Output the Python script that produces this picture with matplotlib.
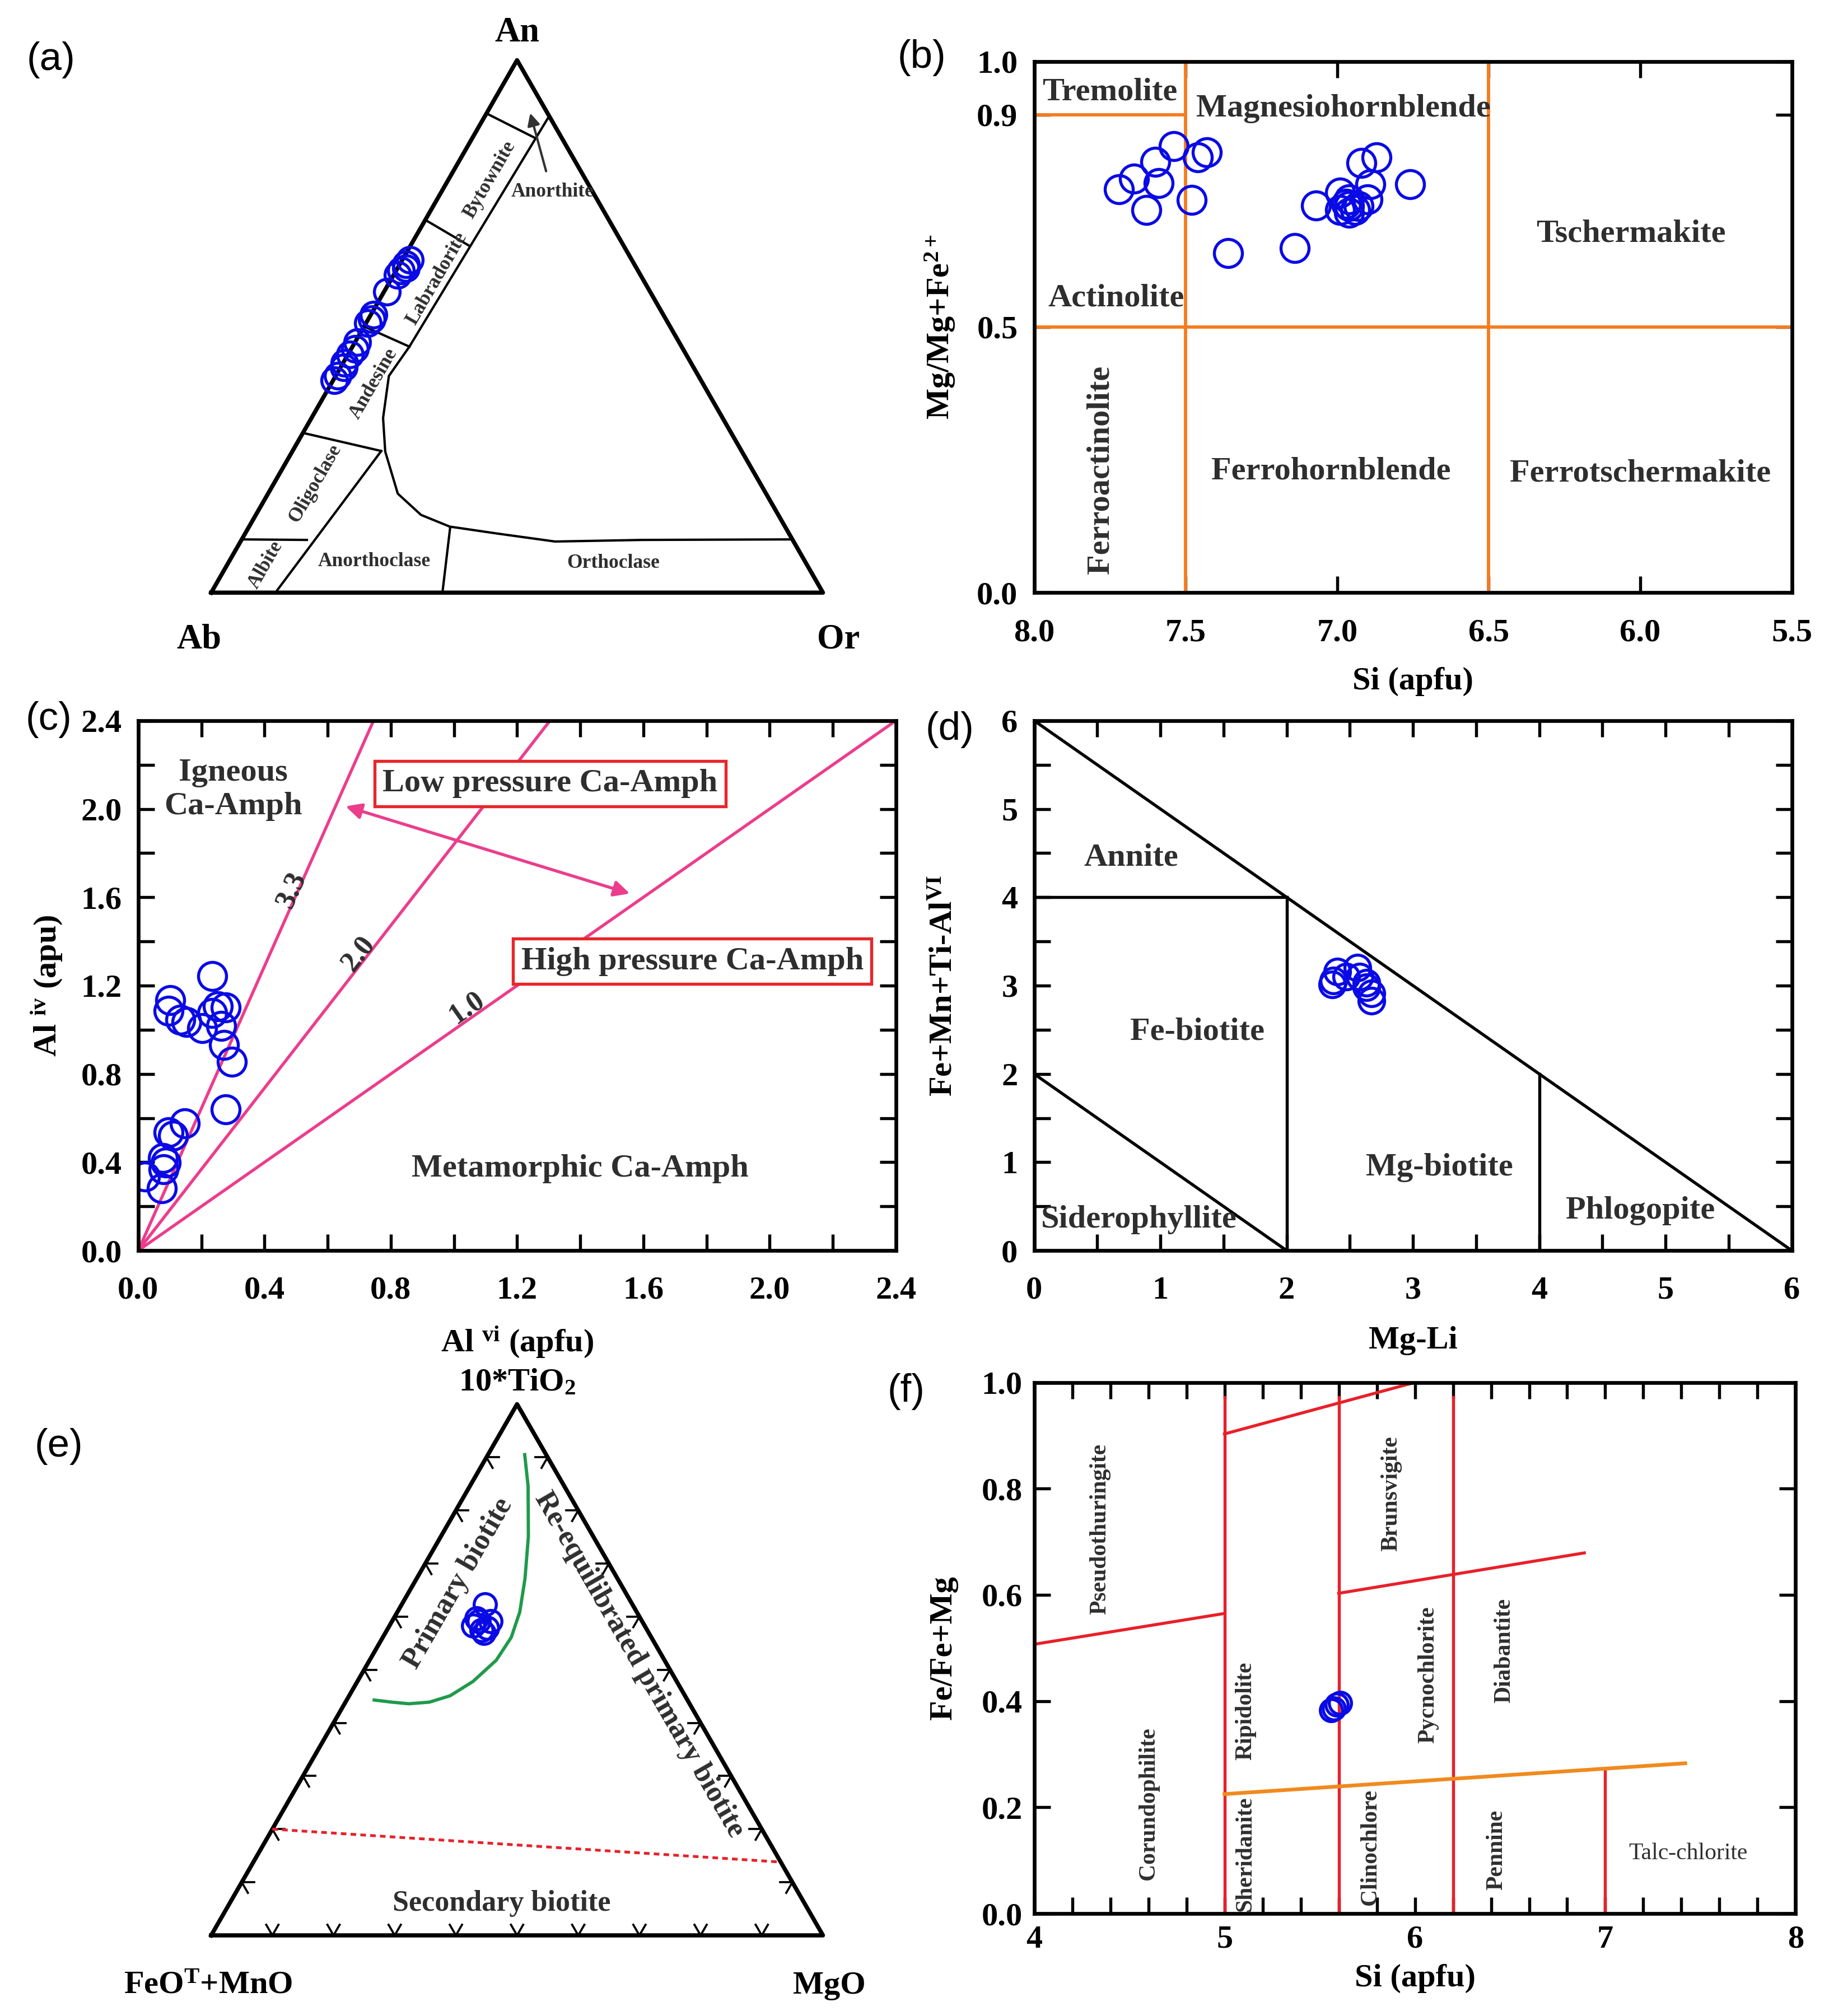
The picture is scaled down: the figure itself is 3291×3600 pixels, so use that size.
import numpy as np
import matplotlib
matplotlib.use('Agg')
import matplotlib.pyplot as plt
from matplotlib.ticker import MultipleLocator, FixedLocator, FormatStrFormatter

plt.rcParams['font.family'] = 'Liberation Serif'
plt.rcParams['font.weight'] = 'bold'
plt.rcParams['axes.labelweight'] = 'bold'
plt.rcParams['mathtext.fontset'] = 'custom'
plt.rcParams['mathtext.rm'] = 'Liberation Serif:bold'
plt.rcParams['mathtext.it'] = 'Liberation Serif:bold'
plt.rcParams['mathtext.bf'] = 'Liberation Serif:bold'
plt.rcParams['mathtext.default'] = 'rm'

# ---------------- data ----------------
# (a) plagioclase: An and Or fractions
plag_an = [0.625, 0.617, 0.609, 0.605, 0.597, 0.565, 0.522, 0.514, 0.506,
           0.470, 0.458, 0.447, 0.431, 0.423, 0.407, 0.399]
plag_or = [0.012, 0.010, 0.014, 0.008, 0.006, 0.005, 0.004, 0.006, 0.003,
           0.004, 0.006, 0.003, 0.002, 0.005, 0.003, 0.002]

# (b) amphibole classification
amph_si = [7.72, 7.67, 7.60, 7.59, 7.63, 7.54, 7.46, 7.43, 7.48, 7.36, 7.14,
           7.07, 6.99, 6.96, 6.99, 6.96, 6.96, 6.94, 6.93, 6.90, 6.89, 6.92,
           6.87, 6.76, 6.97]
amph_mg = [0.759, 0.779, 0.811, 0.771, 0.720, 0.840, 0.819, 0.829, 0.739,
           0.639, 0.649, 0.729, 0.753, 0.740, 0.720, 0.728, 0.715, 0.720,
           0.728, 0.740, 0.769, 0.809, 0.819, 0.769, 0.732]

# (c) Al vi vs Al iv
al_vi = [0.235, 0.102, 0.096, 0.133, 0.152, 0.203, 0.235, 0.253, 0.277, 0.262,
         0.272, 0.296, 0.277, 0.148, 0.096, 0.111, 0.078, 0.087, 0.081, 0.022,
         0.074]
al_iv = [1.242, 1.134, 1.085, 1.045, 1.035, 1.006, 1.075, 1.105, 1.101, 1.017,
         0.932, 0.856, 0.640, 0.575, 0.536, 0.520, 0.418, 0.398, 0.369, 0.334,
         0.281]
pressure_slopes = [3.22, 1.84, 1.0]
pressure_labels = ['3.3', '2.0', '1.0']

# (d) biotite Mg-Li vs Fe+Mn+Ti-AlVI
bio_mgli = [2.36, 2.40, 2.47, 2.37, 2.56, 2.58, 2.63, 2.67, 2.67, 2.63]
bio_fe = [3.01, 3.16, 3.10, 3.06, 3.20, 3.10, 3.03, 2.91, 2.83, 2.98]

# (e) biotite ternary: 10*TiO2 and MgO fractions
bio_ti = [0.623, 0.591, 0.583, 0.579, 0.575, 0.597, 0.591, 0.569]
bio_mg = [0.136, 0.142, 0.137, 0.162, 0.155, 0.135, 0.161, 0.161]
primary_ti = [0.905, 0.846, 0.751, 0.672, 0.609, 0.561, 0.518, 0.478, 0.451,
              0.439, 0.436, 0.439, 0.443]
primary_mg = [0.060, 0.095, 0.143, 0.177, 0.200, 0.210, 0.207, 0.189, 0.165,
              0.137, 0.105, 0.076, 0.045]
secondary_ti = [0.200, 0.138]
secondary_mg = [0.0, 0.862]

# (f) chlorite
chl_si = [5.56, 5.574, 5.59, 5.606]
chl_fe = [0.383, 0.386, 0.393, 0.397]

# ---------------- helpers ----------------
S3 = np.sqrt(3) / 2


def tern(top, right):
    top = np.asarray(top, float)
    right = np.asarray(right, float)
    return right + top / 2, top * S3


def rect(x0, y0, x1, y1):
    # box given in reference pixels of a 1440 x 1575 view
    return [x0 / 1440, 1 - y1 / 1575, (x1 - x0) / 1440, (y1 - y0) / 1575]


def style(ax, xpad=11, ypad=7):
    ax.tick_params(which='both', direction='in', top=True, right=True,
                   length=7, width=1.3, labelsize=14)
    ax.tick_params(axis='x', which='both', pad=xpad)
    ax.tick_params(axis='y', which='both', pad=ypad)
    for s in ax.spines.values():
        s.set_linewidth(1.6)


def line_angle(ax, slope):
    p0 = ax.transData.transform((0, 0))
    p1 = ax.transData.transform((1, slope))
    return np.degrees(np.arctan2(p1[1] - p0[1], p1[0] - p0[0]))


BLUE = '#0a0ae6'
GREY = '#2e2e2e'
circ = dict(ls='none', marker='o', mfc='none', mec=BLUE, mew=1.3)

fig = plt.figure(figsize=(3291 / 300, 3600 / 300), dpi=300)

# ---------------- (a) ----------------
ax = fig.add_axes(rect(165, 47, 643, 463))
ax.set_xlim(0, 1)
ax.set_ylim(0, S3)
ax.axis('off')
ax.plot([0, 1, 0.5, 0], [0, 0, S3, 0], color='black', lw=1.8, clip_on=False)
thin = dict(color='black', lw=1.0, clip_on=False)
segs = [
    ([0.90, 0.855], [0.0, 0.100]),
    ([0.895, 0.462], [0.105, 0.093]),
    ([0.70, 0.652], [0.0, 0.095]),
    ([0.50, 0.462], [0.0, 0.093]),
    ([0.30, 0.266], [0.0, 0.145]),
    ([0.10, 0.099], [0.0, 0.107]),
    ([0.266, 0.0], [0.145, 0.105]),
    ([0.121, 0.0], [0.330, 0.378]),
    ([0.462, 0.407, 0.328, 0.265, 0.186, 0.146, 0.124, 0.111, 0.096, 0.099,
      0.100],
     [0.093, 0.087, 0.117, 0.152, 0.212, 0.270, 0.328, 0.412, 0.514, 0.656,
      0.900]),
]
for an_s, or_s in segs:
    ax.plot(*tern(an_s, or_s), **thin)
ax.plot(*tern(plag_an, plag_or), ms=11, **circ)
fs_a = 8.5
for txt, an_v, or_v in [('Bytownite', 0.775, 0.068), ('Labradorite', 0.590, 0.074),
                        ('Andesine', 0.392, 0.070), ('Oligoclase', 0.205, 0.068),
                        ('Albite', 0.052, 0.063)]:
    ax.text(*tern(an_v, or_v), txt, rotation=60, ha='center', va='center',
            fontsize=fs_a, color=GREY)
ax.text(*tern(0.059, 0.237), 'Anorthoclase', ha='center', va='center',
        fontsize=fs_a, color=GREY)
ax.text(*tern(0.055, 0.630), 'Orthoclase', ha='center', va='center',
        fontsize=fs_a, color=GREY)
ax.text(*tern(0.753, 0.181), 'Anorthite', ha='center', va='center',
        fontsize=fs_a, color=GREY)
ax.annotate('', xy=tern(0.909, 0.065), xytext=tern(0.783, 0.158),
            arrowprops=dict(arrowstyle='-|>', color='#333333', lw=1.0,
                            mutation_scale=11))
ax.text(0.5, S3 + 0.018, 'An', ha='center', va='bottom', fontsize=15)
ax.text(-0.02, -0.05, 'Ab', ha='center', va='top', fontsize=15)
ax.text(1.025, -0.05, 'Or', ha='center', va='top', fontsize=15)

# ---------------- (b) ----------------
ax = fig.add_axes(rect(808, 48, 1400, 463))
style(ax)
ax.set_xlim(8.0, 5.5)
ax.set_ylim(0, 1.0)
ax.xaxis.set_major_locator(MultipleLocator(0.5))
ax.xaxis.set_major_formatter(FormatStrFormatter('%.1f'))
ax.yaxis.set_major_locator(FixedLocator([0.0, 0.5, 0.9, 1.0]))
ax.yaxis.set_major_formatter(FormatStrFormatter('%.1f'))
ORANGE = '#f57c1f'
ax.axvline(7.5, color=ORANGE, lw=1.4)
ax.axvline(6.5, color=ORANGE, lw=1.4)
ax.axhline(0.5, color=ORANGE, lw=1.4)
ax.plot([8.0, 7.5], [0.9, 0.9], color=ORANGE, lw=1.4)
ax.plot(amph_si, amph_mg, ms=12, **circ)
for txt, x, y in [('Tremolite', 7.75, 0.942), ('Magnesiohornblende', 6.98, 0.911),
                  ('Tschermakite', 6.03, 0.675), ('Actinolite', 7.73, 0.554),
                  ('Ferrohornblende', 7.02, 0.229), ('Ferrotschermakite', 6.0, 0.224)]:
    ax.text(x, y, txt, ha='center', va='center', fontsize=14, color=GREY)
ax.text(7.78, 0.231, 'Ferroactinolite', rotation=90, ha='center', va='center',
        fontsize=14, color=GREY)
ax.set_xlabel('Si (apfu)', fontsize=14)
ax.set_ylabel('Mg/Mg+Fe$^{2+}$', fontsize=14)
ax.xaxis.set_label_coords(0.5, -0.14)
ax.yaxis.set_label_coords(-0.102, 0.5)

# ---------------- (c) ----------------
ax = fig.add_axes(rect(108, 563, 700, 977))
style(ax)
ax.set_xlim(0, 2.4)
ax.set_ylim(0, 2.4)
for axis in (ax.xaxis, ax.yaxis):
    axis.set_major_locator(MultipleLocator(0.4))
    axis.set_minor_locator(MultipleLocator(0.2))
    axis.set_major_formatter(FormatStrFormatter('%.1f'))
PINK = '#ec3d8c'
for k in pressure_slopes:
    xe = min(2.4, 2.4 / k)
    ax.plot([0, xe], [0, k * xe], color=PINK, lw=1.3)
for lab, k, xl, yl in zip(pressure_labels, pressure_slopes,
                          [0.486, 0.697, 1.042], [1.635, 1.345, 1.101]):
    ax.text(xl, yl, lab, rotation=line_angle(ax, k), rotation_mode='anchor',
            ha='center', va='center', fontsize=12.5, color=GREY)
ax.annotate('', xy=(0.657, 2.012), xytext=(1.557, 1.617),
            arrowprops=dict(arrowstyle='<|-|>', color=PINK, lw=1.3,
                            mutation_scale=14, shrinkA=0, shrinkB=0))
ax.plot(al_vi, al_iv, ms=12, **circ)
box = dict(boxstyle='square,pad=0.25', fc='white', ec='#e8262b', lw=1.3)
ax.text(1.305, 2.115, 'Low pressure Ca-Amph', ha='center', va='center',
        fontsize=14, color=GREY, bbox=box)
ax.text(1.755, 1.310, 'High pressure Ca-Amph', ha='center', va='center',
        fontsize=14, color=GREY, bbox=box)
ax.text(0.30, 2.087, 'Igneous\nCa-Amph', ha='center', va='center', fontsize=14,
        color=GREY, linespacing=1.2)
ax.text(1.40, 0.371, 'Metamorphic Ca-Amph', ha='center', va='center',
        fontsize=14, color=GREY)
ax.set_xlabel('Al $^{\\rm vi}$ (apfu)', fontsize=14)
ax.set_ylabel('Al $^{\\rm iv}$ (apu)', fontsize=14)
ax.xaxis.set_label_coords(0.5, -0.14)
ax.yaxis.set_label_coords(-0.098, 0.5)

# ---------------- (d) ----------------
ax = fig.add_axes(rect(808, 563, 1400, 977))
style(ax)
ax.set_xlim(0, 6)
ax.set_ylim(0, 6)
for axis in (ax.xaxis, ax.yaxis):
    axis.set_major_locator(MultipleLocator(1))
    axis.set_minor_locator(MultipleLocator(0.5))
    axis.set_major_formatter(FormatStrFormatter('%d'))
blk = dict(color='black', lw=1.3)
ax.plot([0, 6], [6, 0], **blk)
ax.plot([0, 2], [4, 4], **blk)
ax.plot([2, 2], [0, 4], **blk)
ax.plot([0, 2], [2, 0], **blk)
ax.plot([4, 4], [0, 2], **blk)
ax.plot(bio_mgli, bio_fe, ms=11, **circ)
for txt, x, y in [('Annite', 0.77, 4.45), ('Fe-biotite', 1.29, 2.48),
                  ('Mg-biotite', 3.21, 0.94), ('Phlogopite', 4.80, 0.45),
                  ('Siderophyllite', 0.83, 0.35)]:
    ax.text(x, y, txt, ha='center', va='center', fontsize=14, color=GREY)
ax.set_xlabel('Mg-Li', fontsize=14)
ax.set_ylabel('Fe+Mn+Ti-Al$^{\\rm VI}$', fontsize=14)
ax.xaxis.set_label_coords(0.5, -0.143)
ax.yaxis.set_label_coords(-0.10, 0.5)

# ---------------- (e) ----------------
ax = fig.add_axes(rect(165, 1097, 643, 1512))
ax.set_xlim(0, 1)
ax.set_ylim(0, S3)
ax.axis('off')
ax.plot([0, 1, 0.5, 0], [0, 0, S3, 0], color='black', lw=1.8, clip_on=False)
tl = 0.02
for f in np.arange(1, 10) / 10:
    # bottom edge
    px, py = f, 0.0
    for a in (60, 120):
        ax.plot([px, px + tl * np.cos(np.radians(a))], [py, py + tl * np.sin(np.radians(a))],
                color='black', lw=0.9)
    # left edge
    px, py = tern(f, 0.0)
    for a in (0, -60):
        ax.plot([px, px + tl * np.cos(np.radians(a))], [py, py + tl * np.sin(np.radians(a))],
                color='black', lw=0.9)
    # right edge
    px, py = tern(f, 1 - f)
    for a in (180, 240):
        ax.plot([px, px + tl * np.cos(np.radians(a))], [py, py + tl * np.sin(np.radians(a))],
                color='black', lw=0.9)
ax.plot(*tern(primary_ti, primary_mg), color='#1f9a4b', lw=1.4)
ax.plot(*tern(secondary_ti, secondary_mg), color='#e5232b', lw=1.2, ls=(0, (2, 1.5)))
ax.plot(*tern(bio_ti, bio_mg), ms=9.5, **circ)
ax.text(*tern(0.663, 0.072), 'Primary biotite', rotation=60, ha='center',
        va='center', fontsize=12.5, color=GREY)
ax.text(*tern(0.51, 0.445), 'Re-equilibrated primary biotite', rotation=-60,
        ha='center', va='center', fontsize=12.5, color=GREY)
ax.text(0.475, 0.052, 'Secondary biotite', ha='center', va='center',
        fontsize=12.5, color=GREY)
ax.text(0.5, S3 + 0.022, '10*TiO$_{2}$', ha='center', va='baseline', fontsize=14)
ax.text(-0.005, -0.058, 'FeO$^{\\rm T}$+MnO', ha='center', va='top', fontsize=14)
ax.text(1.01, -0.058, 'MgO', ha='center', va='top', fontsize=14)

# ---------------- (f) ----------------
ax = fig.add_axes(rect(808, 1080, 1403, 1495))
style(ax, xpad=5, ypad=5)
ax.set_xlim(4, 8)
ax.set_ylim(0, 1.0)
ax.xaxis.set_major_locator(MultipleLocator(1))
ax.xaxis.set_minor_locator(MultipleLocator(0.2))
ax.xaxis.set_major_formatter(FormatStrFormatter('%d'))
ax.yaxis.set_major_locator(MultipleLocator(0.2))
ax.yaxis.set_major_formatter(FormatStrFormatter('%.1f'))
RED = '#e8202a'
red = dict(color=RED, lw=1.3)
for xv in (5.0, 5.6, 6.2):
    ax.plot([xv, xv], [0, 0.972], **red)
ax.plot([7.0, 7.0], [0, 0.27], **red)
ax.plot([5.0, 6.0], [0.903, 1.0], **red)
ax.plot([4.0, 5.0], [0.507, 0.565], **red)
ax.plot([5.6, 6.89], [0.603, 0.679], **red)
ax.plot([5.0, 7.42], [0.225, 0.283], color='#f08a1e', lw=1.6)
ax.plot(chl_si, chl_fe, ms=9.5, **circ)
for txt, x, y in [('Pseudothuringite', 4.345, 0.724), ('Brunsvigite', 5.877, 0.791),
                  ('Ripidolite', 5.11, 0.381), ('Pycnochlorite', 6.07, 0.45),
                  ('Diabantite', 6.47, 0.495), ('Corundophilite', 4.60, 0.207),
                  ('Sheridanite', 5.11, 0.113), ('Clinochlore', 5.765, 0.125),
                  ('Pennine', 6.43, 0.12)]:
    ax.text(x, y, txt, rotation=90, ha='center', va='center', fontsize=10,
            color=GREY)
ax.text(7.435, 0.113, 'Talc-chlorite', ha='center', va='center', fontsize=10,
        fontweight='normal', color=GREY)
ax.set_xlabel('Si (apfu)', fontsize=14)
ax.set_ylabel('Fe/Fe+Mg', fontsize=14)
ax.xaxis.set_label_coords(0.5, -0.095)
ax.yaxis.set_label_coords(-0.10, 0.5)

# panel letters
for lab, x, y in [('(a)', 40, 47), ('(b)', 720, 45), ('(c)', 38, 562),
                  ('(d)', 742, 570), ('(e)', 46, 1130), ('(f)', 708, 1087)]:
    fig.text(x / 1440, 1 - y / 1575, lab, ha='center', va='center',
             fontsize=17, fontweight='normal', family='Liberation Sans')

fig.savefig('out.png', dpi=300, facecolor='white')
